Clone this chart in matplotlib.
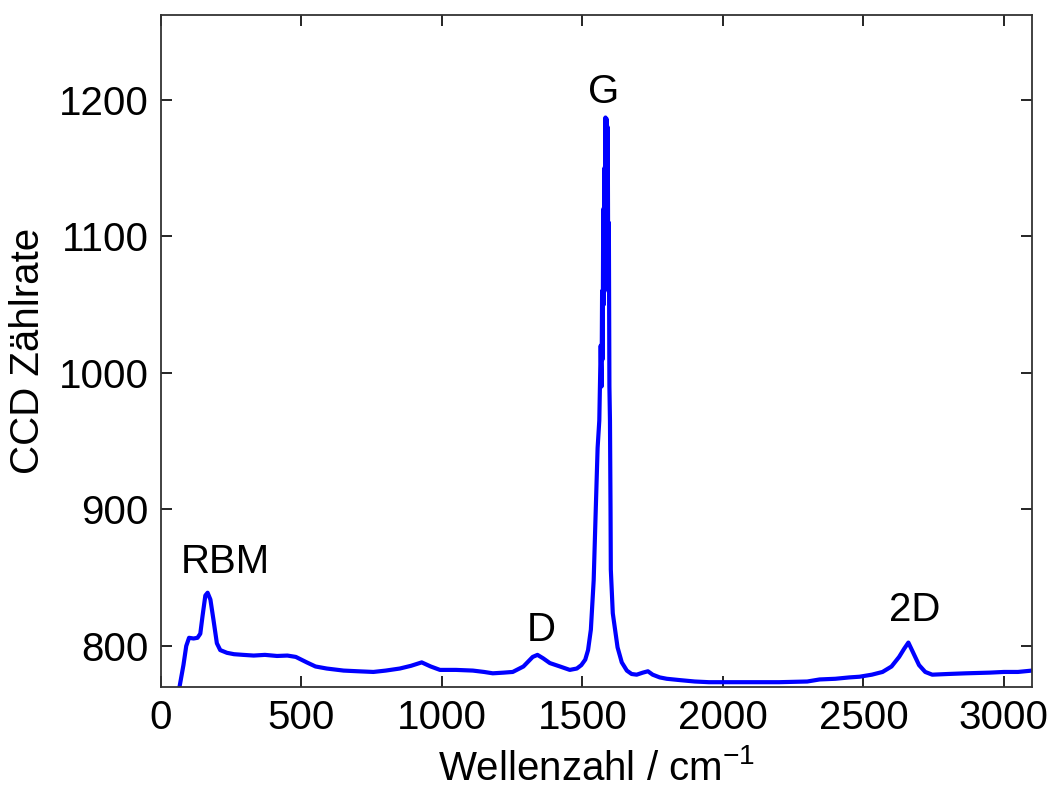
import matplotlib
matplotlib.use("Agg")
import matplotlib.pyplot as plt
import numpy as np

# Raman spectrum
wellenzahl = [66, 80, 90, 100, 116, 130, 140, 148, 158, 166, 176, 187, 199, 211, 235, 260, 293, 330,
              370, 413, 450, 480, 519, 550, 590, 650, 700, 756, 800, 850, 890, 928, 960, 993, 1050,
              1110, 1150, 1181, 1220, 1252, 1290, 1323, 1340, 1360, 1384, 1420, 1455, 1480, 1496,
              1510, 1520, 1530, 1540, 1547, 1554, 1560, 1565, 1568, 1570, 1572, 1574, 1576, 1578,
              1580, 1582, 1584, 1586, 1588, 1590, 1592, 1594, 1596, 1598, 1600, 1601, 1608, 1625,
              1640, 1658, 1675, 1693, 1715, 1733, 1750,
              1775, 1800, 1848, 1900, 1950, 2000, 2100, 2200, 2300, 2344, 2400, 2450, 2486, 2530,
              2568, 2600, 2627, 2645, 2660, 2675, 2698, 2720, 2745, 2800, 2865, 2950, 3000, 3050, 3100]
zaehlrate = [770, 786, 800, 806, 805.5, 806, 809, 822, 837, 839, 834, 819, 802, 797, 795, 794, 793.5, 793,
             793.5, 792.7, 793, 792, 788, 785, 783.5, 782, 781.5, 781, 782, 783.5, 785.5, 788, 785, 782.5, 782.5,
             782, 781, 780, 780.5, 781, 785, 792, 793.5, 791, 787.5, 785, 782.5, 783.5, 786,
             790, 797, 812, 848, 897, 945, 965, 1020, 990, 1060, 1010, 1120, 1050, 1150,
             1100, 1187, 1120, 1186, 1140, 1180, 1060, 1110, 990, 965, 900, 856, 824, 799,
             788, 782, 779.5, 779, 780.5, 781.5, 779,
             777, 776, 775, 774, 773.5, 773.5, 773.5, 773.5, 774, 775.5, 776, 777, 777.5, 779,
             781, 785, 792, 798, 802.5, 796, 786, 781, 779, 779.5, 780, 780.5, 781, 781, 782]

peak_names = ["RBM", "D", "G", "2D"]
peak_x = [229, 1352, 1576, 2681]
peak_y = [861.5, 811.7, 1205.6, 826]

plt.rcParams['font.family'] = ['Liberation Sans', 'DejaVu Sans']
plt.rcParams['mathtext.default'] = 'regular'

fig = plt.figure(figsize=(10.52, 7.94), dpi=100)
ax = fig.add_axes([0.153, 0.1348, 0.828, 0.8462])

ax.plot(wellenzahl, zaehlrate, color='#0000ff', lw=3.0)

for name, px, py in zip(peak_names, peak_x, peak_y):
    ax.text(px, py, name, fontsize=29, ha='center', va='center')

ax.set_xlim(0, 3100)
ax.set_ylim(770, 1262)
ax.set_xticks([0, 500, 1000, 1500, 2000, 2500, 3000])
ax.set_yticks([800, 900, 1000, 1100, 1200])
ax.tick_params(direction='in', length=8, width=1.2, labelsize=29, top=True, right=True, pad=9)
for s in ax.spines.values():
    s.set_linewidth(1.3)
    s.set_color('#333333')

ax.set_xlabel(r'Wellenzahl / cm$^{-1}$', fontsize=29, labelpad=8)
ax.set_ylabel('CCD Zählrate', fontsize=29, labelpad=8)

fig.savefig('out.png', dpi=100)
